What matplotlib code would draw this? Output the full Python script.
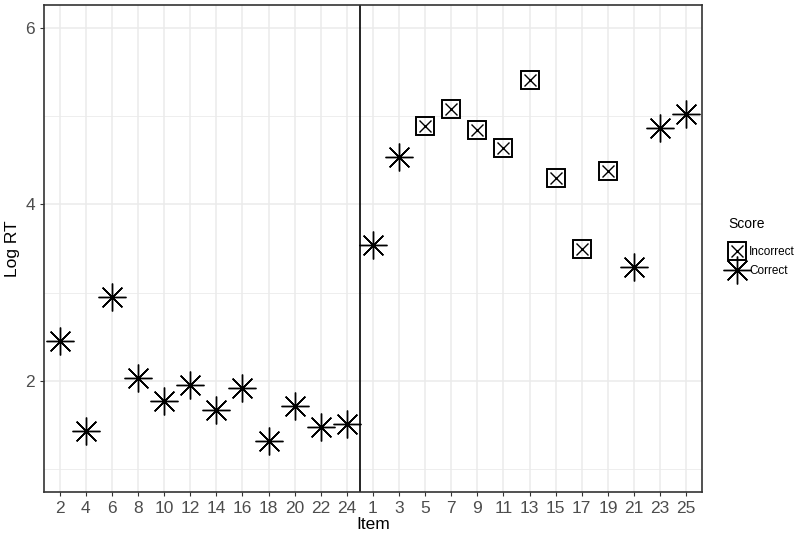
import numpy as np
import matplotlib.pyplot as plt
from matplotlib.lines import Line2D
from matplotlib.legend_handler import HandlerTuple

plt.rcParams['font.family'] = ['Liberation Sans', 'DejaVu Sans']

# item order along the x axis, log RT and score per item
items = ['2', '4', '6', '8', '10', '12', '14', '16', '18', '20', '22', '24',
         '1', '3', '5', '7', '9', '11', '13', '15', '17', '19', '21', '23', '25']
log_rt = [2.45, 1.43, 2.95, 2.03, 1.77, 1.95, 1.67, 1.92, 1.32, 1.72, 1.48, 1.51,
          3.54, 4.54, 4.89, 5.08, 4.84, 4.64, 5.41, 4.30, 3.49, 4.38, 3.29, 4.87, 5.02]
score = ['Correct'] * 12 + ['Correct', 'Correct', 'Incorrect', 'Incorrect', 'Incorrect',
                            'Incorrect', 'Incorrect', 'Incorrect', 'Incorrect', 'Incorrect',
                            'Correct', 'Correct', 'Correct']

x = np.arange(1, len(items) + 1)
y = np.array(log_rt)
wrong = np.array([s == 'Incorrect' for s in score])

fig = plt.figure(figsize=(8.04, 5.4), dpi=100)
ax = fig.add_axes([0.0547, 0.0889, 0.8183, 0.9018])

star = (8, 2, 0)
ax.plot(x[~wrong], y[~wrong], linestyle='none', marker=star, markersize=20,
        markeredgewidth=1.0, color='black', zorder=3)
ax.plot(x[wrong], y[wrong], linestyle='none', marker='s', markersize=13,
        markerfacecolor='none', markeredgewidth=1.4, color='black', zorder=3)
ax.plot(x[wrong], y[wrong], linestyle='none', marker='x', markersize=9,
        markeredgewidth=1.0, color='black', zorder=3)

ax.axvline(12.5, color='black', linewidth=1.2, zorder=2)

ax.set_xlim(0.4, 25.6)
ax.set_ylim(0.74, 6.26)
ax.set_xticks(x)
ax.set_xticklabels(items)
ax.set_yticks([2, 4, 6])
ax.set_yticks([1, 3, 5], minor=True)
ax.grid(True, which='major', color='#EBEBEB', linewidth=1.1, zorder=0)
ax.grid(True, which='minor', axis='y', color='#EBEBEB', linewidth=0.6, zorder=0)
ax.set_axisbelow(True)
ax.tick_params(axis='both', which='major', colors='#333333', labelcolor='#4D4D4D',
               labelsize=12.5, length=3, width=0.8)
ax.tick_params(axis='y', which='minor', length=0)
for s in ax.spines.values():
    s.set_color('#333333')
    s.set_linewidth(1.2)

ax.set_xlabel('Item', fontsize=12.5, labelpad=1)
ax.set_ylabel('Log RT', fontsize=12.5, labelpad=4)

sq = Line2D([], [], linestyle='none', marker='s', markersize=13, markerfacecolor='none',
            markeredgewidth=1.4, color='black')
xx = Line2D([], [], linestyle='none', marker='x', markersize=9, markeredgewidth=1.0,
            color='black')
st = Line2D([], [], linestyle='none', marker=star, markersize=20, markeredgewidth=1.0,
            color='black')
leg = fig.legend([(sq, xx), st], ['Incorrect', 'Correct'], title='Score',
                 handler_map={tuple: HandlerTuple(ndivide=1)},
                 loc='upper left', bbox_to_anchor=(0.9055, 0.598), frameon=False,
                 fontsize=8.5, title_fontsize=10, handlelength=1.5, handletextpad=0.3,
                 labelspacing=0.6, borderaxespad=0, borderpad=0)
leg._legend_box.align = 'left'
leg._legend_box.sep = 11

fig.savefig('out.png', dpi=100)
